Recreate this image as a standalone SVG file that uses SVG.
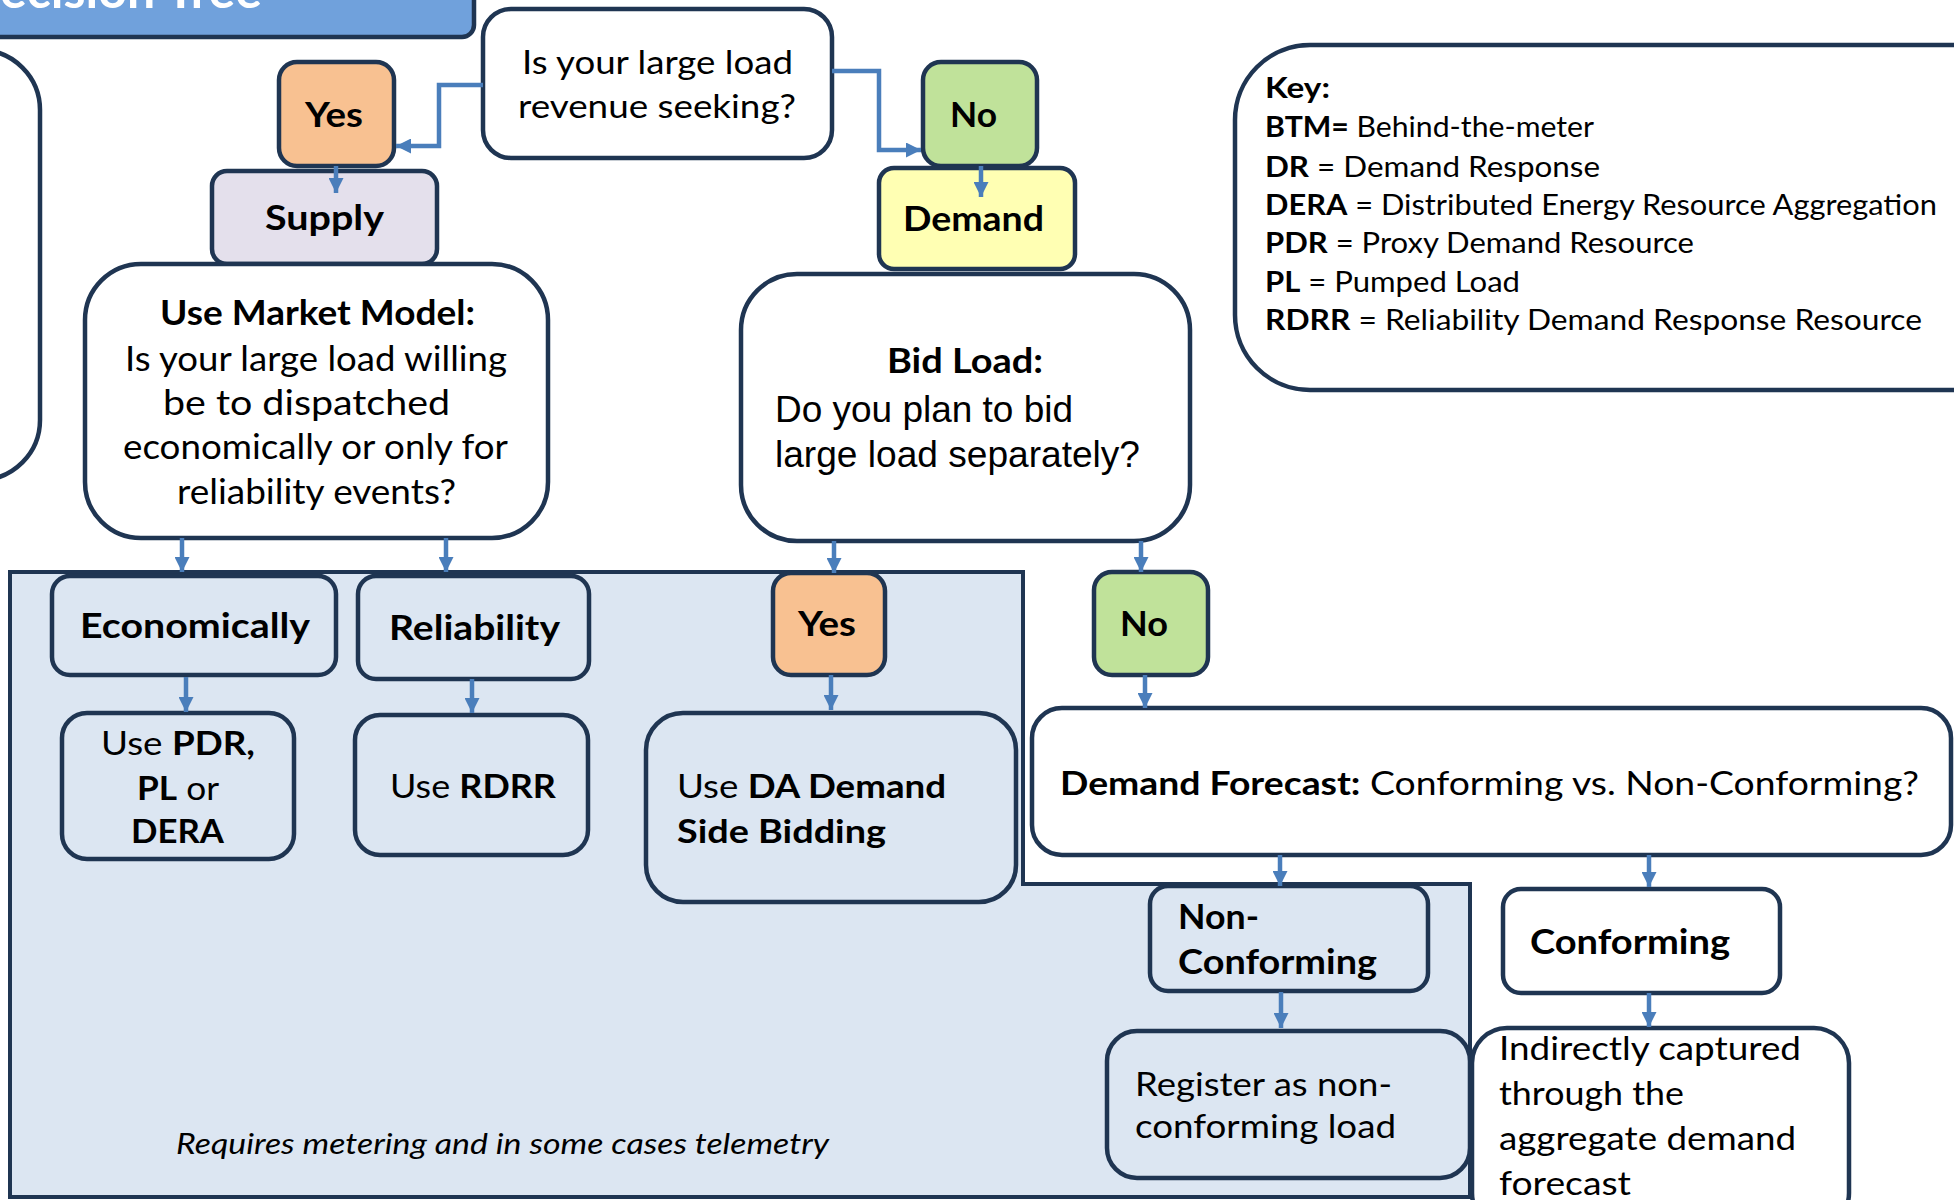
<svg xmlns="http://www.w3.org/2000/svg" width="1954" height="1200" viewBox="0 0 1954 1200">
<defs>
<style>
.n{stroke:#1f3552;stroke-width:4.5}
.w{fill:#ffffff}
.t{font-family:Lato,"Open Sans",sans-serif;fill:#000}
.b{font-weight:bold}
.c{stroke:#4a7ebb;stroke-width:4.5;fill:none}
</style>
<marker id="ah" viewBox="0 0 10 10" refX="10" refY="5" markerWidth="15" markerHeight="15" markerUnits="userSpaceOnUse" orient="auto">
<path d="M0,0 L10,5 L0,10 z" fill="#4a7ebb"/>
</marker>
</defs>
<rect width="1954" height="1200" fill="#ffffff"/>

<g id="title">
<rect x="-20" y="-20" width="494" height="57" rx="12" fill="#70a1dc" class="n"/>
<text x="262" y="8" text-anchor="end" class="t b" font-size="50" fill="#ffffff" style="fill:#fff">Decision Tree</text>
</g>

<g id="left-box">
<rect x="-80" y="50" width="120" height="430" rx="60" class="n w"/>
</g>

<g id="region">
<path d="M10,572 L1023,572 L1023,884 L1470,884 L1470,1197 L10,1197 Z" fill="#dce6f2" stroke="#1f3552" stroke-width="4"/>
<text x="176" y="1154" class="t" font-style="italic" font-size="29" textLength="653" lengthAdjust="spacingAndGlyphs">Requires metering and in some cases telemetry</text>
</g>

<g id="q-revenue">
<rect x="483" y="9" width="349" height="149" rx="28" class="n w"/>
<text x="522" y="74" class="t" font-size="33" textLength="271" lengthAdjust="spacingAndGlyphs">Is your large load</text>
<text x="518" y="118" class="t" font-size="33" textLength="278" lengthAdjust="spacingAndGlyphs">revenue seeking?</text>
</g>

<g id="yes-top">
<rect x="279" y="62" width="115" height="104" rx="18" fill="#f8c191" class="n"/>
<text x="305" y="127" class="t b" font-size="34" textLength="58" lengthAdjust="spacingAndGlyphs">Yes</text>
</g>

<g id="supply">
<rect x="212" y="171" width="225" height="93" rx="15" fill="#e4e0ec" class="n"/>
<text x="265" y="230" class="t b" font-size="34" textLength="119" lengthAdjust="spacingAndGlyphs">Supply</text>
</g>

<g id="no-top">
<rect x="923" y="62" width="114" height="104" rx="18" fill="#c0e29a" class="n"/>
<text x="950" y="127" class="t b" font-size="34" textLength="47" lengthAdjust="spacingAndGlyphs">No</text>
</g>

<g id="demand">
<rect x="879" y="168" width="196" height="101" rx="15" fill="#ffffb3" class="n"/>
<text x="903" y="231" class="t b" font-size="34" textLength="141" lengthAdjust="spacingAndGlyphs">Demand</text>
</g>

<g id="market-model">
<rect x="85" y="264" width="463" height="274" rx="56" class="n w"/>
<text x="160" y="325" class="t b" font-size="34" textLength="315" lengthAdjust="spacingAndGlyphs">Use Market Model:</text>
<text x="125" y="371" class="t" font-size="34" textLength="382" lengthAdjust="spacingAndGlyphs">Is your large load willing</text>
<text x="163" y="415" class="t" font-size="34" textLength="287" lengthAdjust="spacingAndGlyphs">be to dispatched</text>
<text x="123" y="459" class="t" font-size="34" textLength="385" lengthAdjust="spacingAndGlyphs">economically or only for</text>
<text x="177" y="504" class="t" font-size="34" textLength="279" lengthAdjust="spacingAndGlyphs">reliability events?</text>
</g>

<g id="bid-load">
<rect x="741" y="274" width="449" height="267" rx="56" class="n w"/>
<text x="887" y="373" class="t b" font-size="34" textLength="156" lengthAdjust="spacingAndGlyphs">Bid Load:</text>
<text x="775" y="422" font-family="'Liberation Sans',Arial,sans-serif" font-size="37" textLength="298" lengthAdjust="spacingAndGlyphs">Do you plan to bid</text>
<text x="775" y="467" font-family="'Liberation Sans',Arial,sans-serif" font-size="37" textLength="365" lengthAdjust="spacingAndGlyphs">large load separately?</text>
</g>

<g id="key">
<rect x="1235" y="45" width="800" height="345" rx="75" class="n w"/>
<text x="1265" y="98" class="t b" font-size="28" textLength="65" lengthAdjust="spacingAndGlyphs">Key:</text>
<text x="1265" y="137" class="t" font-size="28" textLength="329" lengthAdjust="spacingAndGlyphs"><tspan font-weight="bold">BTM=</tspan> Behind-the-meter</text>
<text x="1265" y="177" class="t" font-size="28" textLength="335" lengthAdjust="spacingAndGlyphs"><tspan font-weight="bold">DR</tspan> = Demand Response</text>
<text x="1265" y="215" class="t" font-size="28" textLength="672" lengthAdjust="spacingAndGlyphs"><tspan font-weight="bold">DERA</tspan> = Distributed Energy Resource Aggregation</text>
<text x="1265" y="253" class="t" font-size="28" textLength="429" lengthAdjust="spacingAndGlyphs"><tspan font-weight="bold">PDR</tspan> = Proxy Demand Resource</text>
<text x="1265" y="292" class="t" font-size="28" textLength="255" lengthAdjust="spacingAndGlyphs"><tspan font-weight="bold">PL</tspan> = Pumped Load</text>
<text x="1265" y="330" class="t" font-size="28" textLength="657" lengthAdjust="spacingAndGlyphs"><tspan font-weight="bold">RDRR</tspan> = Reliability Demand Response Resource</text>
</g>

<g id="economically">
<rect x="52" y="576" width="284" height="99" rx="18" fill="#dce6f2" class="n"/>
<text x="80" y="638" class="t b" font-size="34" textLength="230" lengthAdjust="spacingAndGlyphs">Economically</text>
</g>

<g id="reliability">
<rect x="358" y="576" width="231" height="103" rx="18" fill="#dce6f2" class="n"/>
<text x="389" y="640" class="t b" font-size="34" textLength="171" lengthAdjust="spacingAndGlyphs">Reliability</text>
</g>

<g id="yes-mid">
<rect x="773" y="573" width="112" height="102" rx="18" fill="#f8c191" class="n"/>
<text x="798" y="636" class="t b" font-size="34" textLength="58" lengthAdjust="spacingAndGlyphs">Yes</text>
</g>

<g id="no-mid">
<rect x="1094" y="572" width="114" height="103" rx="18" fill="#c0e29a" class="n"/>
<text x="1120" y="636" class="t b" font-size="34" textLength="48" lengthAdjust="spacingAndGlyphs">No</text>
</g>

<g id="use-pdr">
<rect x="62" y="713" width="232" height="146" rx="25" fill="#dce6f2" class="n"/>
<text x="101" y="755" class="t" font-size="33" textLength="154" lengthAdjust="spacingAndGlyphs">Use <tspan font-weight="bold">PDR,</tspan></text>
<text x="137" y="800" class="t" font-size="33" textLength="82" lengthAdjust="spacingAndGlyphs"><tspan font-weight="bold">PL</tspan> or</text>
<text x="131" y="843" class="t b" font-size="33" textLength="93" lengthAdjust="spacingAndGlyphs">DERA</text>
</g>

<g id="use-rdrr">
<rect x="355" y="715" width="233" height="140" rx="25" fill="#dce6f2" class="n"/>
<text x="390" y="798" class="t" font-size="33" textLength="166" lengthAdjust="spacingAndGlyphs">Use <tspan font-weight="bold">RDRR</tspan></text>
</g>

<g id="use-da">
<rect x="646" y="713" width="370" height="189" rx="37" fill="#dce6f2" class="n"/>
<text x="677" y="798" class="t" font-size="33" textLength="269" lengthAdjust="spacingAndGlyphs">Use <tspan font-weight="bold">DA Demand</tspan></text>
<text x="677" y="843" class="t b" font-size="33" textLength="209" lengthAdjust="spacingAndGlyphs">Side Bidding</text>
</g>

<g id="demand-forecast">
<rect x="1032" y="708" width="919" height="147" rx="30" class="n w"/>
<text x="1060" y="795" class="t" font-size="33" textLength="859" lengthAdjust="spacingAndGlyphs"><tspan font-weight="bold">Demand Forecast:</tspan> Conforming vs. Non-Conforming?</text>
</g>

<g id="non-conforming">
<rect x="1150" y="886" width="278" height="105" rx="18" fill="#dce6f2" class="n"/>
<text x="1178" y="929" class="t b" font-size="34" textLength="81" lengthAdjust="spacingAndGlyphs">Non-</text>
<text x="1178" y="974" class="t b" font-size="34" textLength="199" lengthAdjust="spacingAndGlyphs">Conforming</text>
</g>

<g id="conforming">
<rect x="1503" y="889" width="277" height="104" rx="18" class="n w"/>
<text x="1530" y="954" class="t b" font-size="34" textLength="200" lengthAdjust="spacingAndGlyphs">Conforming</text>
</g>

<g id="register">
<rect x="1107" y="1031" width="363" height="147" rx="30" fill="#dce6f2" class="n"/>
<text x="1135" y="1096" class="t" font-size="33" textLength="257" lengthAdjust="spacingAndGlyphs">Register as non-</text>
<text x="1135" y="1138" class="t" font-size="33" textLength="261" lengthAdjust="spacingAndGlyphs">conforming load</text>
</g>

<g id="indirectly">
<rect x="1472" y="1028" width="377" height="200" rx="35" class="n w"/>
<text x="1499" y="1060" class="t" font-size="33" textLength="302" lengthAdjust="spacingAndGlyphs">Indirectly captured</text>
<text x="1499" y="1105" class="t" font-size="33" textLength="185" lengthAdjust="spacingAndGlyphs">through the</text>
<text x="1499" y="1150" class="t" font-size="33" textLength="297" lengthAdjust="spacingAndGlyphs">aggregate demand</text>
<text x="1499" y="1195" class="t" font-size="33" textLength="132" lengthAdjust="spacingAndGlyphs">forecast</text>
</g>

<g id="connectors">
<path class="c" marker-end="url(#ah)" d="M483,85 L439,85 L439,146 L396,146"/>
<path class="c" marker-end="url(#ah)" d="M832,71 L879,71 L879,150 L921,150"/>
<path class="c" marker-end="url(#ah)" d="M336,166 L336,193"/>
<path class="c" marker-end="url(#ah)" d="M981,166 L981,197"/>
<path class="c" marker-end="url(#ah)" d="M182,538 L182,572"/>
<path class="c" marker-end="url(#ah)" d="M446,538 L446,572"/>
<path class="c" marker-end="url(#ah)" d="M186,677 L186,712"/>
<path class="c" marker-end="url(#ah)" d="M472,679 L472,713"/>
<path class="c" marker-end="url(#ah)" d="M834,541 L834,573"/>
<path class="c" marker-end="url(#ah)" d="M1141,541 L1141,572"/>
<path class="c" marker-end="url(#ah)" d="M831,675 L831,710"/>
<path class="c" marker-end="url(#ah)" d="M1145,675 L1145,708"/>
<path class="c" marker-end="url(#ah)" d="M1280,855 L1280,886"/>
<path class="c" marker-end="url(#ah)" d="M1649,855 L1649,887"/>
<path class="c" marker-end="url(#ah)" d="M1281,992 L1281,1028"/>
<path class="c" marker-end="url(#ah)" d="M1649,993 L1649,1027"/>
</g>
</svg>
